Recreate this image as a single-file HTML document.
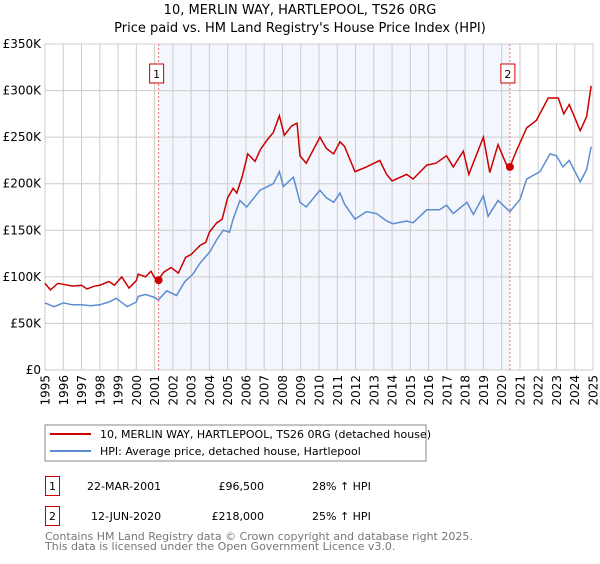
<!DOCTYPE html>
<html><head><meta charset="utf-8"><style>
body{margin:0;background:#fff;width:600px;height:560px;overflow:hidden;font-family:"DejaVu Sans","Liberation Sans",sans-serif;}
svg text{font-family:"DejaVu Sans","Liberation Sans",sans-serif;}
</style></head><body>
<svg id="chart" width="600" height="560" xmlns="http://www.w3.org/2000/svg">
<text x="300" y="14" text-anchor="middle" font-size="13">10, MERLIN WAY, HARTLEPOOL, TS26 0RG</text>
<text x="300" y="32" text-anchor="middle" font-size="13">Price paid vs. HM Land Registry's House Price Index (HPI)</text>
<g id="grid"></g><g id="series"></g><g id="axes"></g>
<rect x="45" y="425" width="381" height="36" fill="#fff" stroke="#888"/>
<line x1="50" y1="434" x2="91" y2="434" stroke="#cc0000" stroke-width="2"/>
<text x="100" y="438" font-size="11">10, MERLIN WAY, HARTLEPOOL, TS26 0RG (detached house)</text>
<line x1="50" y1="451" x2="91" y2="451" stroke="#5b8dd0" stroke-width="2"/>
<text x="100" y="455" font-size="11">HPI: Average price, detached house, Hartlepool</text>
<g>
<rect x="45.5" y="476.5" width="14" height="19" fill="none" stroke="#cc0000"/><text x="52.5" y="490" font-size="11" text-anchor="middle">1</text>
<text x="87" y="490" font-size="11">22-MAR-2001</text><text x="264" y="490" font-size="11" text-anchor="end">£96,500</text><text x="312" y="490" font-size="11">28% ↑ HPI</text></g>
<g>
<rect x="45.5" y="506.5" width="14" height="19" fill="none" stroke="#cc0000"/><text x="52.5" y="520" font-size="11" text-anchor="middle">2</text>
<text x="91" y="520" font-size="11">12-JUN-2020</text><text x="264" y="520" font-size="11" text-anchor="end">£218,000</text><text x="312" y="520" font-size="11">25% ↑ HPI</text></g>
<text x="45" y="540" font-size="11" fill="#777">Contains HM Land Registry data © Crown copyright and database right 2025.</text>
<text x="45" y="550" font-size="11" fill="#777">This data is licensed under the Open Government Licence v3.0.</text>
</svg>
<script>
const hpiYears=[1995,1995.5,1996,1996.5,1997,1997.5,1998,1998.5,1998.9,1999.5,2000,2000.1,2000.5,2001,2001.2,2001.66,2002.2,2002.66,2003.1,2003.5,2004.03,2004.4,2004.76,2005.1,2005.3,2005.67,2006.04,2006.77,2007.5,2007.83,2008.05,2008.6,2008.96,2009.3,2010.05,2010.4,2010.8,2011.15,2011.4,2011.97,2012.6,2013.15,2013.7,2014.05,2014.8,2015.15,2015.9,2016.6,2016.98,2017.35,2018.1,2018.45,2019.0,2019.26,2019.8,2020.45,2021.0,2021.37,2022.1,2022.65,2023.0,2023.35,2023.7,2024.3,2024.65,2024.9];
const hpiValues=[72,68,72,70,70,69,70,73,77,68,73,79,81,78,75,85,80,95,103,115,127,140,150,148,162,182,175,193,200,213,197,207,180,175,193,185,180,190,178,162,170,168,160,157,160,158,172,172,177,168,180,167,187,165,182,170,183,205,213,232,230,218,225,202,215,240];
const priceYears=[1995,1995.3,1995.7,1996,1996.5,1997,1997.3,1997.7,1998,1998.5,1998.8,1999.2,1999.6,2000,2000.1,2000.5,2000.8,2001,2001.2,2001.5,2001.9,2002.3,2002.7,2003,2003.5,2003.8,2004,2004.4,2004.7,2005,2005.3,2005.5,2005.8,2006.1,2006.5,2006.8,2007.2,2007.5,2007.83,2008.1,2008.5,2008.8,2008.96,2009.3,2010.05,2010.4,2010.8,2011.15,2011.4,2011.97,2012.6,2013.33,2013.7,2014,2014.8,2015.15,2015.9,2016.4,2016.98,2017.35,2017.9,2018.2,2019.0,2019.35,2019.8,2020.27,2020.45,2020.8,2021.37,2021.9,2022.55,2023.1,2023.4,2023.7,2024.3,2024.65,2024.9];
const priceValues=[93,86,93,92,90,91,87,90,91,95,91,100,88,96,103,100,106,99,97,105,110,104,121,124,134,137,148,158,162,185,195,190,208,232,224,237,248,255,273,252,262,265,230,222,250,238,232,245,240,213,218,225,210,203,210,205,220,222,230,218,235,210,250,212,242,220,218,235,260,268,292,292,275,285,257,272,305];
const saleYears=[2001.22,2020.45];
const saleValues=[96.5,218];
const saleLabels=["1","2"];
const yTicks=[0,50,100,150,200,250,300,350];
const yTickLabels=["£0","£50K","£100K","£150K","£200K","£250K","£300K","£350K"];
const xTicks=[1995,1996,1997,1998,1999,2000,2001,2002,2003,2004,2005,2006,2007,2008,2009,2010,2011,2012,2013,2014,2015,2016,2017,2018,2019,2020,2021,2022,2023,2024,2025];
const NS="http://www.w3.org/2000/svg";
const X0=45,X1=593,Y0=370,Y1=44;
const xs=y=>X0+(y-1995)/30*(X1-X0);
const ys=v=>Y0-v/350*(Y0-Y1);
function mk(tag,attrs,parent){const e=document.createElementNS(NS,tag);for(const k in attrs)e.setAttribute(k,attrs[k]);parent.appendChild(e);return e;}
const grid=document.getElementById('grid'),ser=document.getElementById('series'),ax=document.getElementById('axes');
let sh=mk('rect',{x:xs(saleYears[0]),y:Y1,width:xs(saleYears[1])-xs(saleYears[0]),height:Y0-Y1,fill:'#eef2fc',opacity:0.7},grid);


yTicks.forEach((t,i)=>{
 let l=mk('line',{x1:X0,x2:X1,y1:ys(t),y2:ys(t),stroke:'#ccc'},grid);
 
 
 let tx=mk('text',{x:X0-4,y:ys(t)+4,'text-anchor':'end','font-size':12},ax);tx.textContent=yTickLabels[i];
 
 
});
xTicks.forEach(t=>{
 let l=mk('line',{x1:xs(t),x2:xs(t),y1:Y1,y2:Y0,stroke:'#ccc'},grid);
 
 
 let tx=mk('text',{x:0,y:0,'text-anchor':'end','font-size':12,transform:`translate(${xs(t)+4.5},${Y0+5}) rotate(-90)`},ax);tx.textContent=t;
 
 
});
let fr=mk('rect',{x:X0,y:Y1,width:X1-X0,height:Y0-Y1,fill:'none',stroke:'#ccc'},grid);


let hp=mk('polyline',{points:hpiYears.map((y,i)=>xs(y)+','+ys(hpiValues[i])).join(' '),fill:'none',stroke:'#5b8dd0','stroke-width':1.5},ser);


let pp=mk('polyline',{points:priceYears.map((y,i)=>xs(y)+','+ys(priceValues[i])).join(' '),fill:'none',stroke:'#cc0000','stroke-width':1.5},ser);


saleYears.forEach((y,i)=>{
 let v=mk('line',{x1:xs(y),x2:xs(y),y1:Y1,y2:Y0,stroke:'#f07070','stroke-dasharray':'2,2'},ser);
 
 
 let d=mk('circle',{cx:xs(y),cy:ys(saleValues[i]),r:4,fill:'#cc0000'},ser);
 
 
 let b=mk('rect',{x:xs(y)-9,y:64,width:14,height:19,fill:'#fff',stroke:'#cc0000'},ser);
 
 
 let t=mk('text',{x:xs(y)-2,y:78,'text-anchor':'middle','font-size':11},ser);t.textContent=saleLabels[i];
 
 
});
</script>
</body></html>
